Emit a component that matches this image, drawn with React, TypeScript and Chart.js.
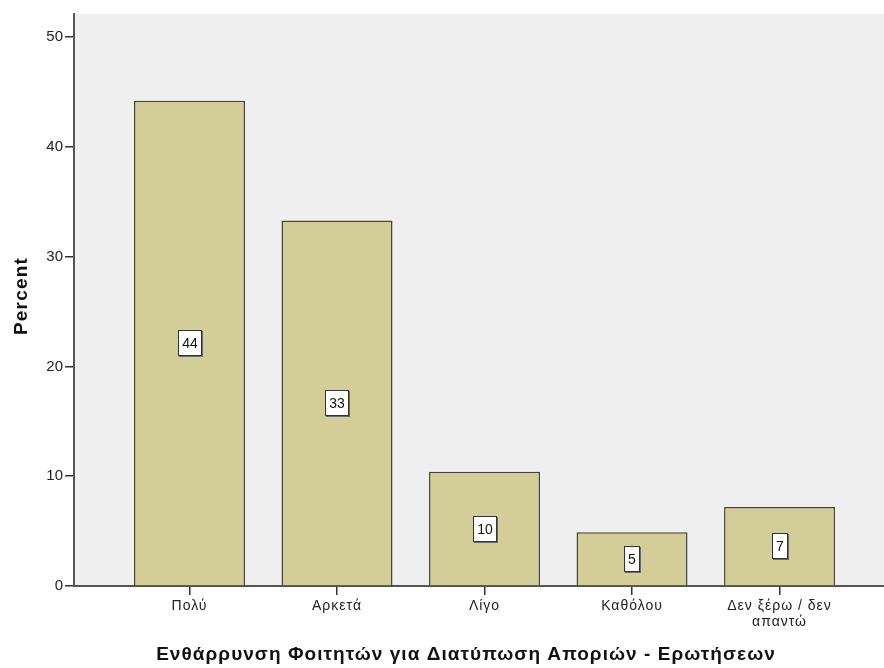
import React, { useEffect, useRef } from 'react';
import { Chart, registerables } from 'chart.js';

Chart.register(...registerables);

const CATEGORIES: (string | string[])[] = ['Πολύ', 'Αρκετά', 'Λίγο', 'Καθόλου', ['Δεν ξέρω / δεν', 'απαντώ']];
const PERCENTS: number[] = [44.2, 33.3, 10.4, 4.9, 7.2];
const BAR_LABELS: string[] = ['44', '33', '10', '5', '7'];
const Y_TICKS: number[] = [0, 10, 20, 30, 40, 50];
const Y_TITLE = 'Percent';
const X_TITLE = 'Ενθάρρυνση Φοιτητών για Διατύπωση Αποριών - Ερωτήσεων';

const FONT = '"Liberation Sans", Arial, sans-serif';

// Wrap a scale's draw method so its text gets letter spacing and an optional shift.
function patchText(s: any, method: string, spacing: string, dx = 0, dy = 0) {
  const key = '__patched_' + method;
  if (s[key]) return;
  s[key] = true;
  const orig = s[method];
  s[method] = function (...args: any[]) {
    const ctx = this.ctx;
    ctx.save();
    ctx.letterSpacing = spacing;
    ctx.translate(dx, dy);
    orig.apply(this, args);
    ctx.restore();
  };
}

const bgPlugin = {
  id: 'plotBg',
  beforeDraw(chart: any) {
    const { ctx, chartArea: a } = chart;
    ctx.save();
    ctx.fillStyle = '#efefef';
    ctx.fillRect(a.left, a.top, a.right - a.left, a.bottom - a.top);
    ctx.restore();
  },
};

const labelPlugin = {
  id: 'barLabels',
  afterDatasetsDraw(chart: any) {
    const { ctx } = chart;
    const meta = chart.getDatasetMeta(0);
    ctx.save();
    ctx.font = `14px ${FONT}`;
    ctx.textAlign = 'center';
    ctx.textBaseline = 'middle';
    meta.data.forEach((el: any, i: number) => {
      const { x, y, base } = el.getProps(['x', 'y', 'base'], true);
      const cy = (y + base) / 2;
      const text = BAR_LABELS[i];
      const w = Math.round(ctx.measureText(text).width + 8);
      const h = 26;
      const left = Math.round(x - w / 2);
      const top = Math.round(cy - h / 2);
      ctx.fillStyle = '#6a6a6a';
      ctx.fillRect(left + 1, top + 1, w, h);
      ctx.fillStyle = '#ffffff';
      ctx.fillRect(left, top, w, h);
      ctx.strokeStyle = '#333333';
      ctx.lineWidth = 1;
      ctx.strokeRect(left + 0.5, top + 0.5, w - 1, h - 1);
      ctx.fillStyle = '#111111';
      ctx.fillText(text, left + w / 2, top + h / 2 + 1);
    });
    ctx.restore();
  },
};

export default function App() {
  const ref = useRef<HTMLCanvasElement | null>(null);

  useEffect(() => {
    if (!ref.current) return;
    const chart = new Chart(ref.current, {
      type: 'bar',
      data: {
        datasets: [
          {
            data: PERCENTS.map((v, i) => ({ x: i, y: v })),
            backgroundColor: '#d3ce97',
            borderColor: '#45453a',
            borderWidth: 1.5,
            barPercentage: 0.7525,
            categoryPercentage: 1,
          } as any,
        ],
      },
      options: {
        responsive: false,
        animation: false,
        layout: { padding: { top: 14, left: 0, right: 0, bottom: 0 } },
        plugins: { legend: { display: false }, tooltip: { enabled: false } },
        scales: {
          x: {
            type: 'linear',
            offset: false,
            min: -0.783,
            max: 4.708,
            afterBuildTicks: (s: any) => {
              s.ticks = CATEGORIES.map((_, i) => ({ value: i }));
            },
            afterFit: (s: any) => {
              s.height = 82;
              patchText(s, 'drawLabels', '1px', 0, 0);
              patchText(s, 'drawTitle', '1.05px', -13, 0);
            },
            ticks: {
              callback: (v: any) => CATEGORIES[v as number] as any,
              font: { family: FONT, size: 14, lineHeight: 1.15 },
              color: '#222',
              padding: 3,
              maxRotation: 0,
              autoSkip: false,
            },
            grid: { offset: false, drawOnChartArea: false, tickLength: 9, color: '#333', lineWidth: 1.5 },
            border: { display: true, color: '#555', width: 2 },
            title: {
              display: true,
              text: X_TITLE,
              font: { family: FONT, size: 19, weight: 'bold' },
              color: '#111',
              padding: { top: 0, bottom: 2 },
            },
          } as any,
          y: {
            min: 0,
            max: 52.1,
            afterBuildTicks: (s: any) => {
              s.ticks = Y_TICKS.map((v) => ({ value: v }));
            },
            afterFit: (s: any) => {
              s.width = 74;
              patchText(s, 'drawTitle', '1.2px', 0, -4);
            },
            ticks: {
              font: { family: FONT, size: 15 },
              color: '#222',
              padding: 2,
            },
            grid: { drawOnChartArea: false, tickLength: 9, color: '#333', lineWidth: 1.5 },
            border: { display: true, color: '#555', width: 2 },
            title: {
              display: true,
              text: Y_TITLE,
              font: { family: FONT, size: 19, weight: 'bold' },
              color: '#111',
              padding: { top: 10, bottom: 0 },
            },
          } as any,
        },
      },
      plugins: [bgPlugin, labelPlugin],
    });
    return () => chart.destroy();
  }, []);

  return (
    <canvas
      ref={ref}
      width={884}
      height={668}
      style={{ position: 'absolute', left: 0, top: 0, display: 'block', width: 884, height: 668 }}
    />
  );
}
